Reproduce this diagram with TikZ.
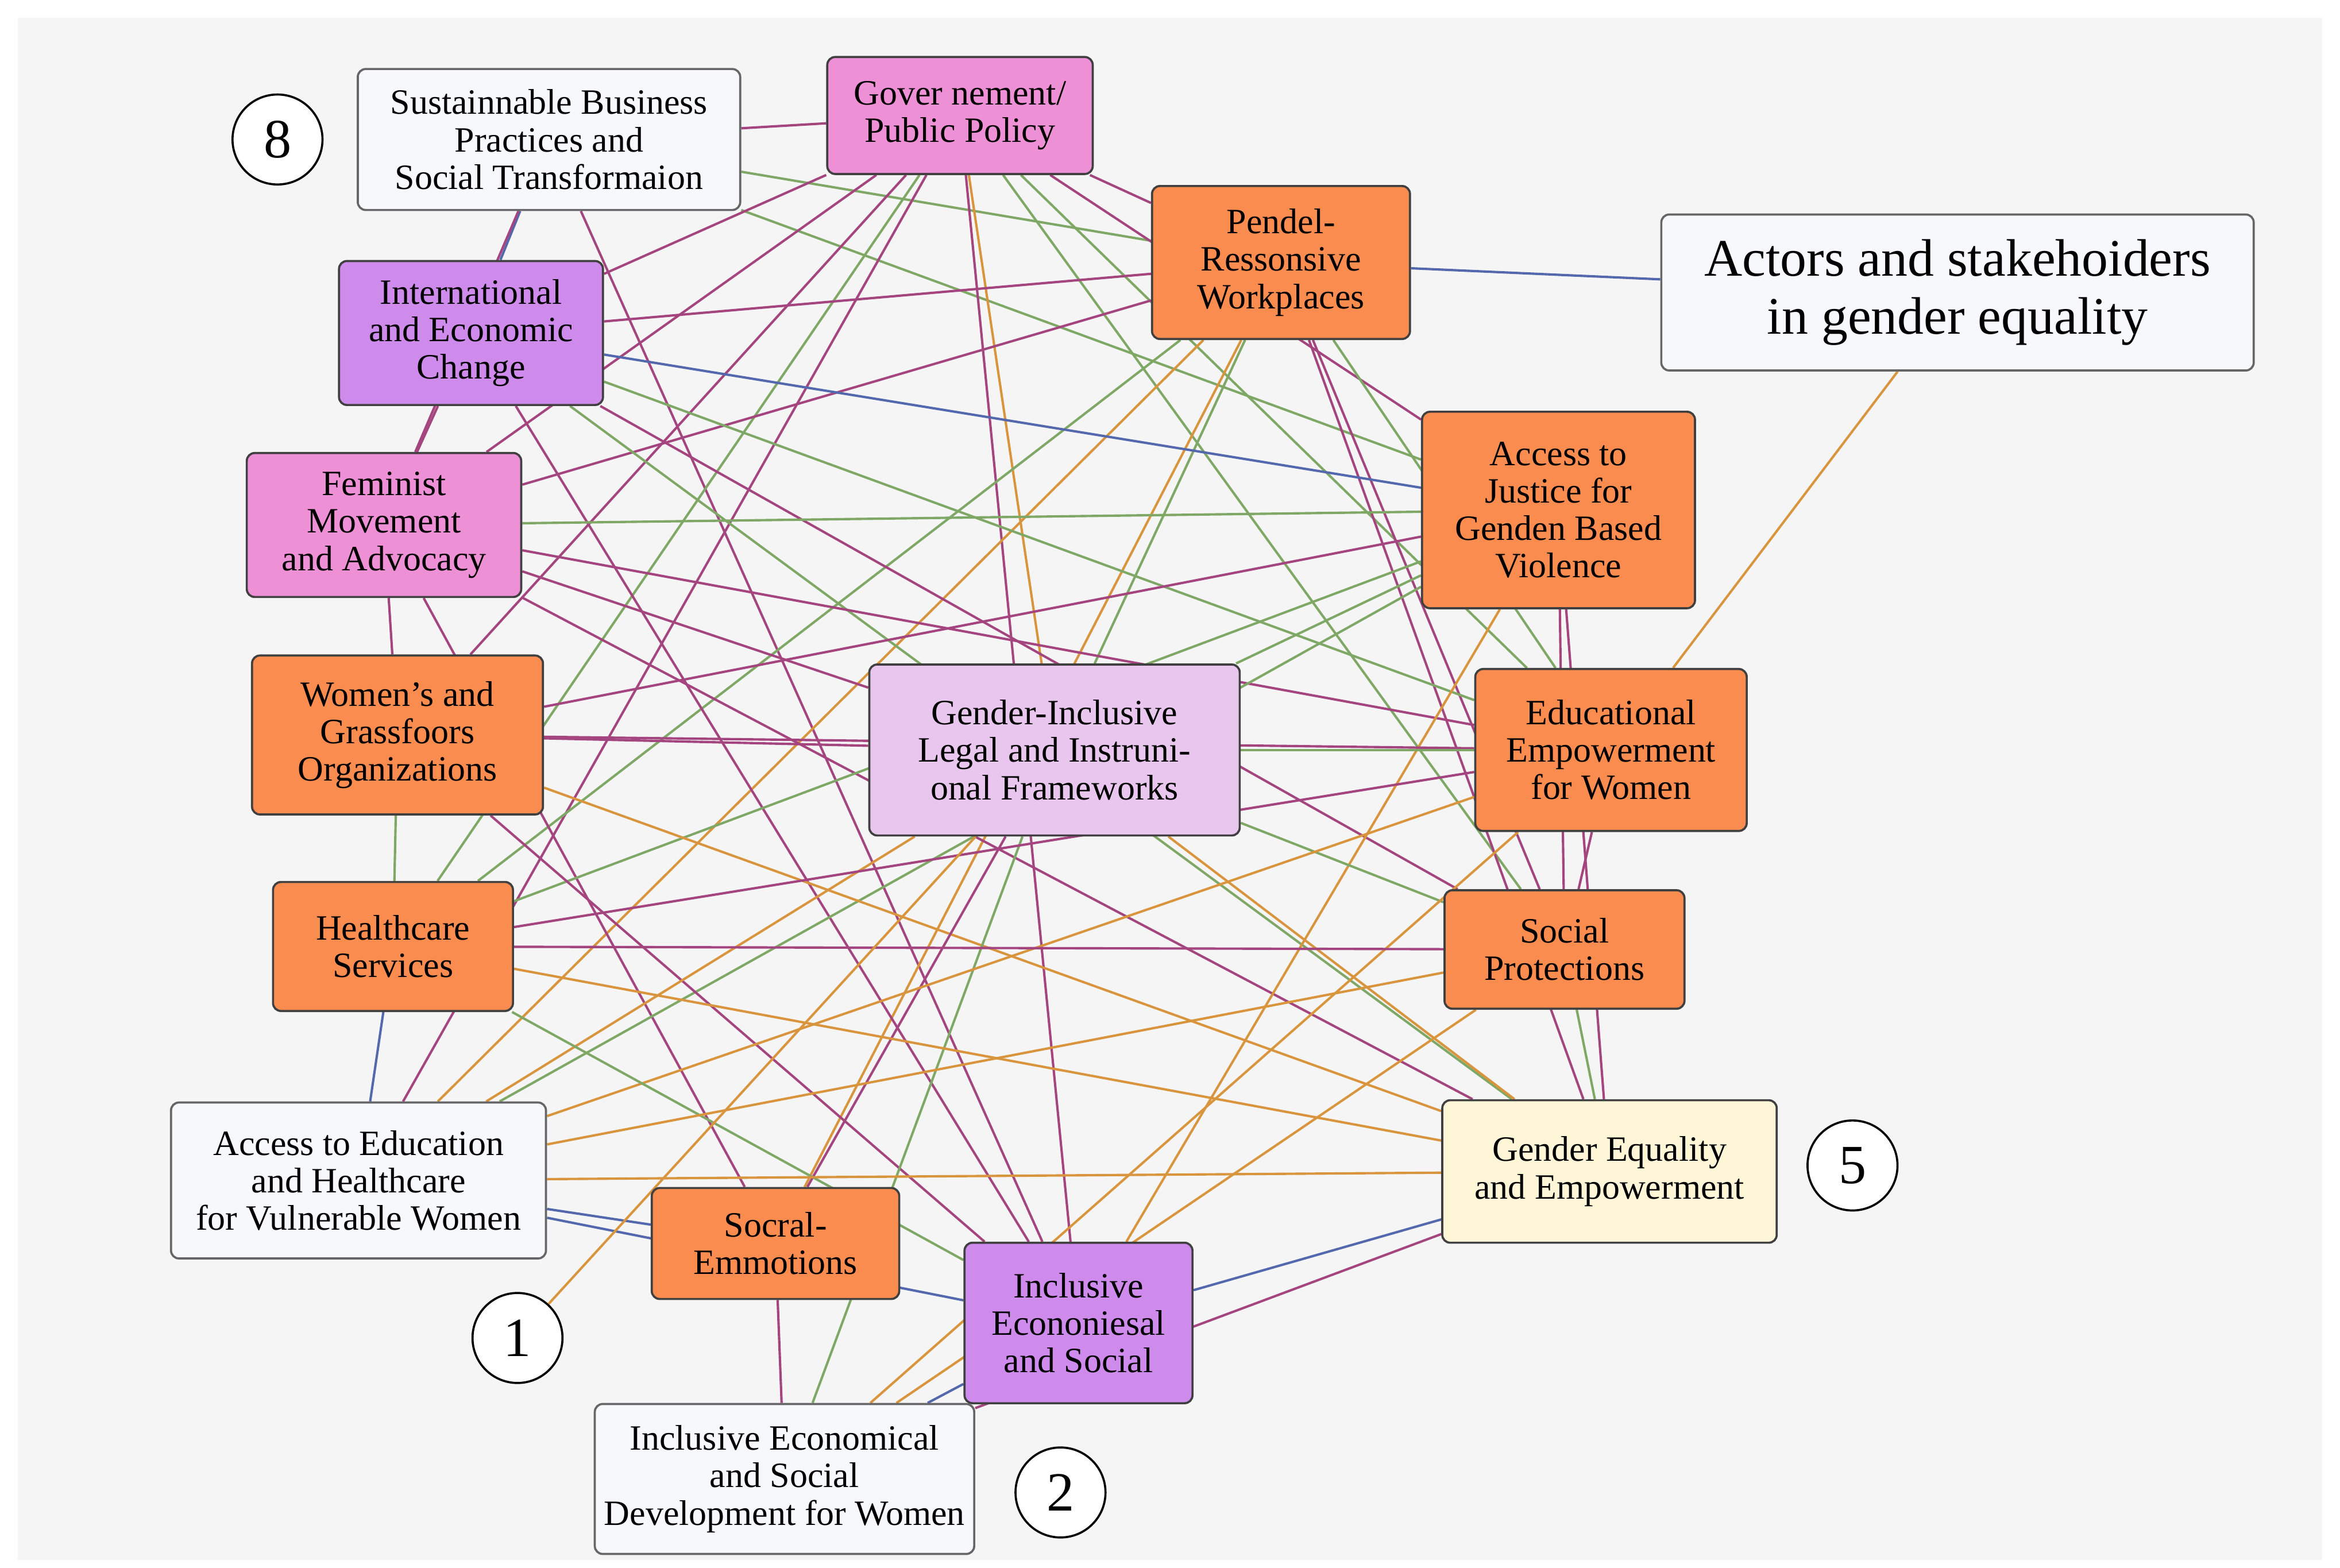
\documentclass[tikz,border=0pt]{standalone}
\usepackage{fontspec}
\setmainfont{Liberation Serif}
\usetikzlibrary{backgrounds}
\definecolor{cpur}{HTML}{A4457F}
\definecolor{cgrn}{HTML}{7FA866}
\definecolor{corg}{HTML}{D9953E}
\definecolor{cblu}{HTML}{5468AE}
\definecolor{forg}{HTML}{FA8C4F}
\definecolor{fpnk}{HTML}{EE90D6}
\definecolor{fvio}{HTML}{CF8BEC}
\definecolor{flav}{HTML}{E8C6EE}
\definecolor{fwht}{HTML}{F7F8FC}
\definecolor{fcrm}{HTML}{FFF6D8}
\tikzset{bx/.append style={draw=black!75,rounded corners=3pt,align=center,inner sep=1pt,line width=0.8pt,font=\fontsize{13.5}{14.2}\selectfont}}
\tikzset{og/.append style={fill=forg}}
\tikzset{pk/.append style={fill=fpnk}}
\tikzset{vi/.append style={fill=fvio}}
\tikzset{wh/.append style={fill=fwht,draw=black!60}}
\tikzset{num/.append style={draw,circle,line width=0.8pt,minimum size=1.2cm,fill=white,font=\fontsize{21}{22}\selectfont}}
\tikzset{ln/.append style={line width=0.9pt}}

\begin{document}
\begin{tikzpicture}[x=0.02cm,y=-0.02cm]
                \useasboundingbox (0,0) rectangle (1560,1045);
                % boxes
                \node[bx,wh,minimum width=5.1cm,minimum height=1.88cm] (sbp) at (366,93) {Sustainnable Business\\Practices and\\Social Transformaion};
                \node[bx,pk,minimum width=3.54cm,minimum height=1.56cm] (gov) at (640,77) {Gover nement/\\Public Policy};
                \node[bx,og,minimum width=3.44cm,minimum height=2.04cm] (pend) at (854,175) {Pendel-\\Ressonsive\\Workplaces};
                \node[bx,wh,minimum width=7.9cm,minimum height=2.08cm,font=\fontsize{20}{22}\selectfont] (actors) at (1305,195) {Actors and stakehoiders\\in gender equality};
                \node[bx,vi,minimum width=3.52cm,minimum height=1.92cm] (intl) at (314,222) {International\\and Economic\\Change};
                \node[bx,pk,minimum width=3.66cm,minimum height=1.92cm] (fem) at (256,350) {Feminist\\Movement\\and Advocacy};
                \node[bx,og,minimum width=3.64cm,minimum height=2.62cm] (ajus) at (1039,340) {Access to\\Justice for\\Genden Based\\Violence};
                \node[bx,og,minimum width=3.88cm,minimum height=2.12cm] (wom) at (265,490) {Women's and\\Grassfoors\\Organizations};
                \node[bx,fill=flav,minimum width=4.94cm,minimum height=2.28cm] (gil) at (703,500) {Gender-Inclusive\\Legal and Instruni-\\onal Frameworks};
                \node[bx,og,minimum width=3.62cm,minimum height=2.16cm] (edu) at (1074,500) {Educational\\Empowerment\\for Women};
                \node[bx,og,minimum width=3.2cm,minimum height=1.72cm] (hc) at (262,631) {Healthcare\\Services};
                \node[bx,og,minimum width=3.2cm,minimum height=1.58cm] (sp) at (1043,633) {Social\\Protections};
                \node[bx,wh,minimum width=5cm,minimum height=2.08cm] (aeh) at (239,787) {Access to Education\\and Healthcare\\for Vulnerable Women};
                \node[bx,fill=fcrm,minimum width=4.46cm,minimum height=1.9cm] (gee) at (1073,781) {Gender Equality\\and Empowerment};
                \node[bx,og,minimum width=3.3cm,minimum height=1.48cm] (se) at (517,829) {Socral-\\Emmotions};
                \node[bx,vi,minimum width=3.04cm,minimum height=2.14cm] (ies) at (719,882) {Inclusive\\Econoniesal\\and Social};
                \node[bx,wh,minimum width=5.06cm,minimum height=2cm] (iesd) at (523,986) {Inclusive Economical\\and Social\\Development for Women};
                \node[num] (n8) at (185,93) {8};
                \node[num] (n5) at (1235,777) {5};
                \node[num] (n1) at (345,892) {1};
                \node[num] (n2) at (707,995) {2};
                % links
                \begin{pgfonlayer}{background}
                \fill[white] (0,0) rectangle (1560,1045);
                \fill[black!4] (12,12) rectangle (1548,1040);
                \foreach \a/\b/\c in {sbp/gov/cpur,sbp/intl/cblu,sbp/ies/cpur,sbp/pend/cgrn,sbp/ajus/cgrn,sbp/fem/cpur,
                    gov/pend/cpur,gov/ajus/cpur,gov/fem/cpur,gov/wom/cpur,gov/hc/cgrn,gov/aeh/cpur,gov/gil/corg,gov/edu/cgrn,gov/sp/cgrn,gov/ies/cpur,gov/intl/cpur,
                    pend/actors/cblu,pend/intl/cpur,pend/fem/cpur,pend/hc/cgrn,pend/gil/cgrn,pend/se/corg,pend/gee/cpur,pend/sp/cpur,pend/edu/cgrn,pend/aeh/corg,
                    actors/edu/corg,intl/ajus/cblu,intl/edu/cgrn,intl/sp/cpur,intl/gee/cgrn,intl/ies/cpur,intl/fem/cpur,
                    fem/ajus/cgrn,fem/edu/cpur,fem/gee/cpur,fem/se/cpur,fem/wom/cpur,fem/gil/cpur,
                    ajus/wom/cpur,ajus/hc/cgrn,ajus/aeh/cgrn,ajus/gil/cgrn,ajus/sp/cpur,ajus/ies/corg,ajus/gee/cpur,
                    wom/gil/cpur,wom/edu/cpur,wom/hc/cgrn,wom/gee/corg,wom/ies/cpur,
                    gil/se/cpur,gil/aeh/corg,gil/iesd/cgrn,gil/sp/cgrn,gil/edu/cgrn,gil/gee/corg,
                    edu/hc/cpur,edu/aeh/corg,edu/iesd/corg,edu/sp/cpur,
                    hc/sp/cpur,hc/aeh/cblu,hc/gee/corg,hc/ies/cgrn,
                    sp/aeh/corg,sp/iesd/corg,sp/gee/cgrn,
                    aeh/gee/corg,aeh/se/cblu,aeh/ies/cblu,se/iesd/cpur,
                    ies/gee/cblu,iesd/gee/cpur,iesd/ies/cblu,n1/gil/corg}
                    \draw[ln,\c] (\a) -- (\b);
                \end{pgfonlayer}
            \end{tikzpicture}
\end{document}
